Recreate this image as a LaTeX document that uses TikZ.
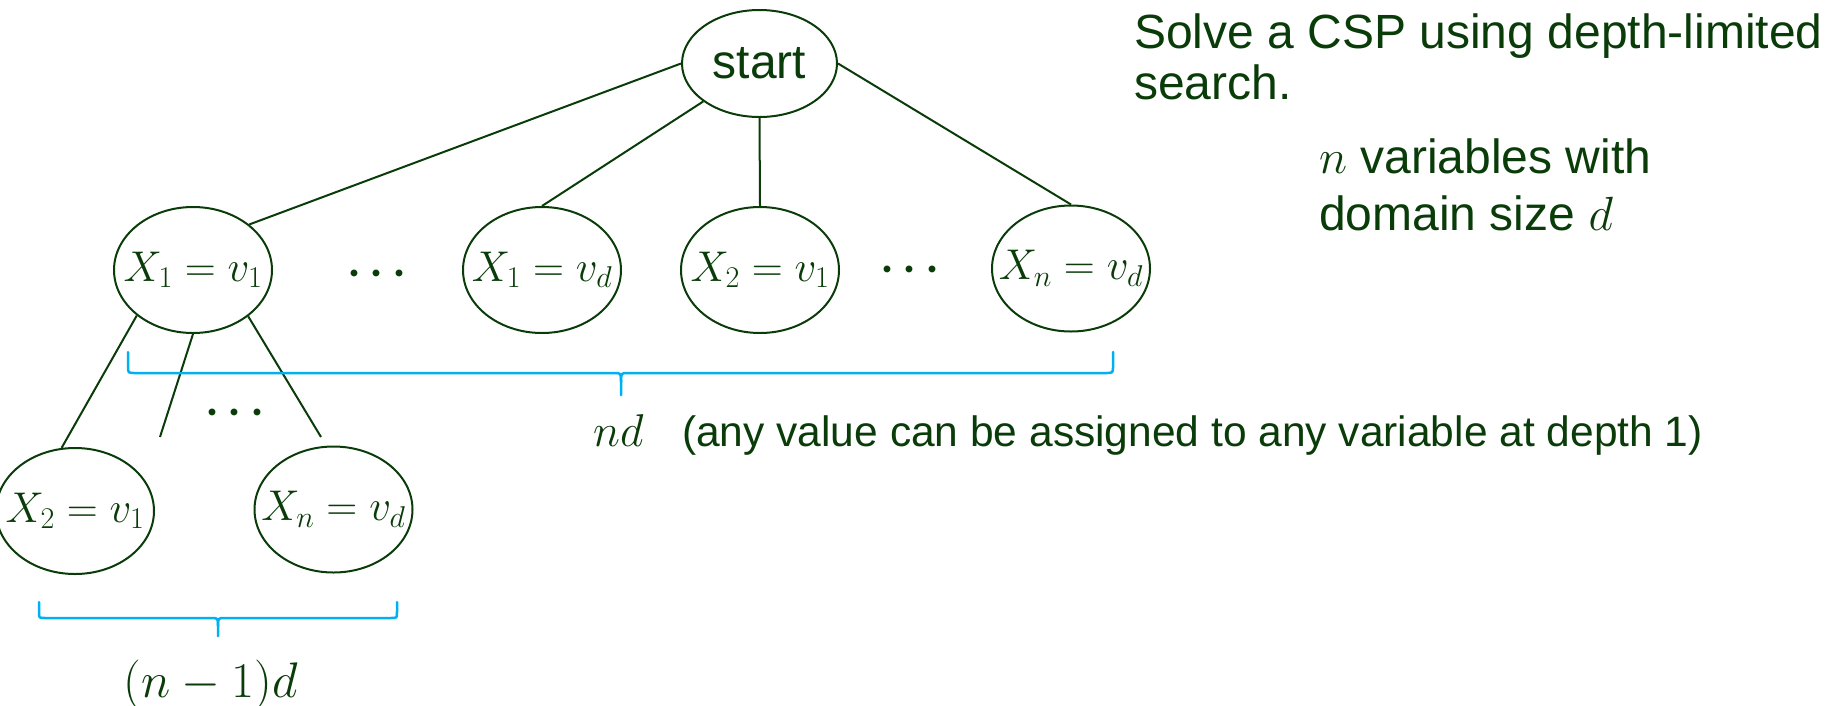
\RequirePackage{fix-cm}
\documentclass[tikz,border=0pt]{standalone}
\usepackage[no-math]{fontspec}
\setmainfont{Liberation Sans}
\usetikzlibrary{shapes.geometric}
\definecolor{dg}{RGB}{10,60,10}
\definecolor{br}{RGB}{0,176,240}
\begin{document}
\begin{tikzpicture}[x=1pt,y=-1pt,
  ell/.style={draw=dg, line width=2pt, ellipse, minimum width=158pt, minimum height=126pt, inner sep=0pt, text=dg, font=\fontsize{43}{50}\selectfont},
  edge/.style={draw=dg, line width=2pt},
  brace/.style={draw=br, line width=2.5pt, line cap=round},
  txt/.style={text=dg, inner sep=0pt, anchor=base west},
  dotsn/.style={text=dg, inner sep=0pt, anchor=base, font=\fontsize{44}{50}\selectfont\boldmath}]
\path[use as bounding box] (0,0) rectangle (1837,705);

% nodes
\node[ell, minimum width=155pt, minimum height=107pt, font=\fontsize{48}{56}\selectfont] (start) at (759.5,63.5) {\makebox[0pt]{start}};
\node[ell] (a1) at (193,270) {\makebox[0pt]{$X_1=v_1$}};
\node[ell] (a2) at (542,270) {\makebox[0pt]{$X_1=v_d$}};
\node[ell] (a3) at (760,270) {\makebox[0pt]{$X_2=v_1$}};
\node[ell] (a4) at (1071,268.5) {\makebox[0pt]{$X_n=v_d$}};
\node[ell] (b1) at (75,511) {\makebox[0pt]{$X_2=v_1$}};
\node[ell] (b2) at (333.5,509.5) {\makebox[0pt]{$X_n=v_d$}};

\node[dotsn] (d1) at (377,284) {$\cdots$};
\node[dotsn] (d2) at (910,280) {$\cdots$};
\node[dotsn] (d3) at (235,423) {$\cdots$};

% edges
\draw[edge] (start.west) -- (a1.39);
\draw[edge] (start.214) -- (a2.north);
\draw[edge] (start.south) -- (a3.north);
\draw[edge] (start.east) -- (a4.north);

\coordinate (e2) at (160,437);
\coordinate (e3) at (321,437);
\draw[edge] (a1.219) -- (b1.102);
\draw[edge] (a1.south) -- (e2);
\draw[edge] (a1.320) -- (e3);

% upper brace
\coordinate (ul) at (128,352);
\coordinate (ur) at (1113,352);
\coordinate (ut) at (621,395);
\draw[brace] (ul) -- (128,366) .. controls (128,373) .. (135,373) -- (614,373) .. controls (621,373) .. (621,382) -- (ut);
\draw[brace] (ur) -- (1113,366) .. controls (1113,373) .. (1106,373) -- (628,373) .. controls (621,373) .. (621,382);

% lower brace
\coordinate (ll) at (39,602);
\coordinate (lr) at (397,602);
\coordinate (lt) at (218,636);
\draw[brace] (ll) -- (39,612) .. controls (39,618) .. (45,618) -- (211,618) .. controls (218,618) .. (218,626) -- (lt);
\draw[brace] (lr) -- (397,612) .. controls (397,618) .. (391,618) -- (225,618) .. controls (218,618) .. (218,626);

% texts
\node[txt, font=\fontsize{48}{56}\selectfont] (t1) at (1134,48) {Solve a CSP using depth-limited};
\node[txt, font=\fontsize{48}{56}\selectfont] (t2) at (1134,99) {search.};
\node[txt, font=\fontsize{48}{56}\selectfont] (t3) at (1319,173) {$n$ variables with};
\node[txt, font=\fontsize{48}{56}\selectfont] (t4) at (1319,230) {domain size $d$};
\node[txt, font=\fontsize{46}{54}\selectfont] (nd) at (593,446) {$nd$};
\node[txt, font=\fontsize{42.5}{50}\selectfont] (any) at (682,446) {(any value can be assigned to any variable at depth 1)};
\node[txt, anchor=base, font=\fontsize{50}{58}\selectfont] (nm1) at (211,697) {$(n-1)d$};
\end{tikzpicture}
\end{document}
